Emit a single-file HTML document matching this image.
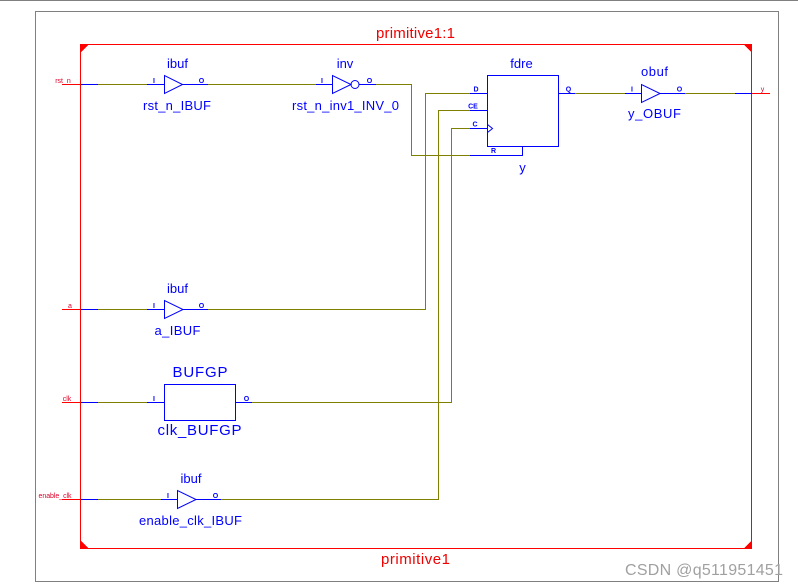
<!DOCTYPE html>
<html><head><meta charset="utf-8"><style>
html,body{margin:0;padding:0;background:#fff;width:798px;height:587px;overflow:hidden}
svg{display:block;font-family:"Liberation Sans",Arial,sans-serif}
.b{stroke:#0000ff;fill:none}
.o{stroke:#808000;fill:none}
.r{stroke:#ff0000;fill:none}
.g{stroke:#808080;fill:none}
.t{fill:#0000ff;font-size:13px;text-anchor:middle}
.p{fill:#0000ff;font-size:7px;font-weight:bold;text-anchor:middle}
.n{fill:#e0002a;font-size:7px;text-anchor:middle}
.c{fill:#f00000;font-size:15px;text-anchor:middle}
</style></head><body>
<svg width="798" height="587" viewBox="0 0 798 587" xmlns="http://www.w3.org/2000/svg">
<g shape-rendering="crispEdges" stroke-width="1">
<line x1="0" y1="0.5" x2="798" y2="0.5" class="g"/>
<rect x="35.5" y="11.5" width="743" height="570" class="g"/>
<rect x="80.5" y="44.5" width="671" height="504" class="r"/>
<path d="M80 44h9l-9 9z M752 44h-9l9 9z M80 549h9l-9-9z M752 549h-9l9-9z" fill="#ff0000"/>

<!-- red stubs -->
<path class="r" d="M62 84.5H80 M62 309.5H80 M62 402.5H80 M62 499.5H80 M752 93.5H770"/>

<!-- olive wires -->
<path class="o" d="M98 84.5H147 M208 84.5H316 M376 84.5H411.5V155.5H470"/>
<path class="o" d="M98 309.5H147 M208 309.5H425.5V93.5H470"/>
<path class="o" d="M98 402.5H147 M252 402.5H451.5V128.5H470"/>
<path class="o" d="M98 499.5H161 M221 499.5H438.5V110.5H470"/>
<path class="o" d="M575 93.5H625 M685 93.5H735"/>

<!-- blue wires -->
<path class="b" d="M81 84.5H98 M147 84.5H164 M182 84.5H208 M316 84.5H332 M359 84.5H376"/>
<path class="b" d="M81 309.5H98 M147 309.5H164 M183 309.5H208"/>
<path class="b" d="M81 402.5H98 M147 402.5H164 M236 402.5H252"/>
<path class="b" d="M81 499.5H98 M161 499.5H177 M196 499.5H221"/>
<path class="b" d="M470 93.5H487 M470 110.5H487 M470 128.5H487 M470 155.5H522.5V146"/>
<path class="b" d="M558 93.5H575 M625 93.5H641 M660 93.5H685 M735 93.5H752"/>
<rect x="487.5" y="75.5" width="71" height="71" class="b"/>
<rect x="164.5" y="384.5" width="71" height="36" class="b"/>
</g>

<!-- buffers -->
<g class="b" stroke-width="1">
<path d="M164.5 75.5V93.5L182.5 84.5Z"/>
<path d="M332.5 75.5V93.5L351 84.5Z"/>
<circle cx="355" cy="84.5" r="4"/>
<path d="M164.5 300.5V318.5L183 309.5Z"/>
<path d="M177.5 490.5V508.5L196 499.5Z"/>
<path d="M641.5 84.5V102.5L660 93.5Z"/>
<path d="M487.5 124.5L492.5 128.5L487.5 132.5"/>
</g>

<!-- labels -->
<text class="c" x="415.5" y="38" textLength="79" lengthAdjust="spacing">primitive1:1</text>
<text class="c" x="415.5" y="564" textLength="69" lengthAdjust="spacing">primitive1</text>

<text class="t" x="177.5" y="68">ibuf</text>
<text class="t" x="177" y="110" textLength="68" lengthAdjust="spacing">rst_n_IBUF</text>
<text class="t" x="345" y="68">inv</text>
<text class="t" x="345.5" y="110" textLength="107" lengthAdjust="spacing">rst_n_inv1_INV_0</text>
<text class="t" x="521.5" y="68">fdre</text>
<text class="t" x="522.5" y="172">y</text>
<text class="t" x="654.5" y="76" textLength="27" lengthAdjust="spacing">obuf</text>
<text class="t" x="654.5" y="118" textLength="53" lengthAdjust="spacing">y_OBUF</text>
<text class="t" x="177.5" y="293">ibuf</text>
<text class="t" x="177.5" y="335" textLength="46" lengthAdjust="spacing">a_IBUF</text>
<text class="t" x="200" y="377" style="font-size:15px" textLength="55" lengthAdjust="spacing">BUFGP</text>
<text class="t" x="199.5" y="435" style="font-size:15px" textLength="84" lengthAdjust="spacing">clk_BUFGP</text>
<text class="t" x="191" y="483">ibuf</text>
<text class="t" x="190.5" y="525" textLength="103" lengthAdjust="spacing">enable_clk_IBUF</text>

<!-- pin labels -->
<text class="p" x="154" y="83">I</text>
<text class="p" x="201.5" y="83">O</text>
<text class="p" x="322" y="83">I</text>
<text class="p" x="369.5" y="83">O</text>
<text class="p" x="476" y="91.5">D</text>
<text class="p" x="473" y="108.5">CE</text>
<text class="p" x="475" y="126.5">C</text>
<text class="p" x="493.5" y="153">R</text>
<text class="p" x="568.5" y="91.5">Q</text>
<text class="p" x="632" y="91.5">I</text>
<text class="p" x="679.5" y="91.5">O</text>
<text class="p" x="154" y="308">I</text>
<text class="p" x="201.5" y="308">O</text>
<text class="p" x="154" y="401">I</text>
<text class="p" x="246.5" y="401">O</text>
<text class="p" x="168" y="498">I</text>
<text class="p" x="215.5" y="498">O</text>

<!-- port names -->
<text class="n" x="63" y="83">rst_n</text>
<text class="n" x="70" y="308">a</text>
<text class="n" x="67" y="401">clk</text>
<text class="n" x="55" y="498" textLength="33" lengthAdjust="spacing">enable_clk</text>
<text class="n" x="762.5" y="91.5">y</text>

<text x="625" y="575" fill="#a0a0a0" style="font-size:16px" textLength="158" lengthAdjust="spacing">CSDN @q511951451</text>
</svg>
</body></html>
